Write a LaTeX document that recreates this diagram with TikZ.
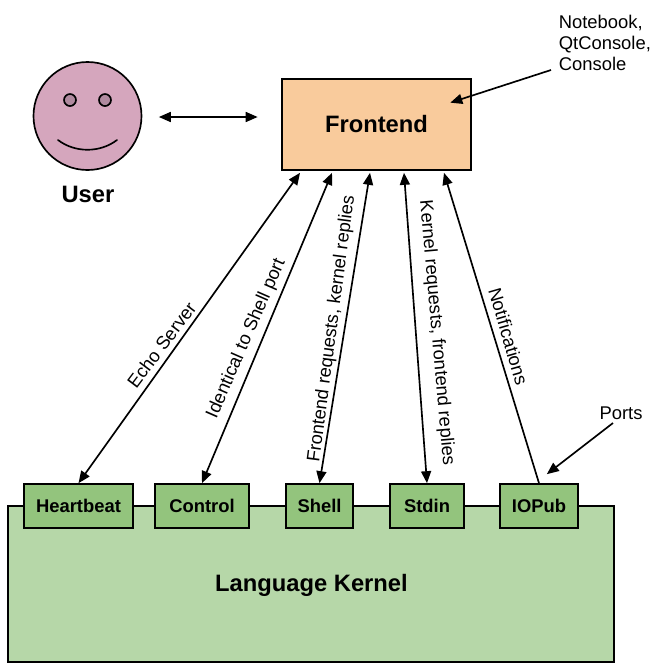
\documentclass[tikz,border=0pt]{standalone}
\usepackage{fontspec}
\setmainfont{Liberation Sans}
\usetikzlibrary{arrows.meta}
\definecolor{facepink}{HTML}{D5A6BD}
\definecolor{eyepink}{HTML}{B08A9F}
\definecolor{frontorange}{HTML}{F9CB9C}
\definecolor{kernelgreen}{HTML}{B6D7A8}
\definecolor{portgreen}{HTML}{93C47D}
\begin{document}
\begin{tikzpicture}[x=0.75pt,y=-0.75pt,line width=1.25pt]
\tikzset{
box/.style={draw=black,rectangle,inner sep=0pt},
port/.style={box,fill=portgreen,minimum height=33pt,font=\fontsize{13.8}{16}\selectfont\bfseries},
title/.style={inner sep=0pt,font=\fontsize{17.8}{20}\selectfont\bfseries},
note/.style={inner sep=0pt,font=\fontsize{13.8}{16}\selectfont},
tip/.style={-{Stealth[length=9pt,width=7.5pt,inset=0pt]}},
tips/.style={{Stealth[length=9pt,width=7.5pt,inset=0pt]}-{Stealth[length=9pt,width=7.5pt,inset=0pt]}}}
\useasboundingbox(0,0)rectangle(657,665);
%%User
\node[circle,draw=black,fill=facepink,minimum size=81pt,inner sep=0pt](Face)at(87.5,116){};
\node[circle,draw=black,fill=eyepink,minimum size=9pt,inner sep=0pt](EyeL)at(70,100){};
\node[circle,draw=black,fill=eyepink,minimum size=9pt,inner sep=0pt](EyeR)at(105,100){};
\draw[line cap=round](58,140)..controls(75,153)and(100,153)..(117,140);
\node[title](User)at(88,194){User};
%%Frontend
\node[box,fill=frontorange,minimum width=141.75pt,minimum height=68.25pt,title](Frontend)at(376.5,124.5){Frontend};
\node[note,anchor=west,align=left](Note)at(558,43){Notebook,\\QtConsole,\\Console};
%%Kernel
\node[box,fill=kernelgreen,minimum width=454.5pt,minimum height=117pt](Kernel)at(311,584){};
\node[title](KernelText)at(311.5,585){Language Kernel};
\node[port,minimum width=81.75pt](Heartbeat)at(78.5,506){Heartbeat};
\node[port,minimum width=70.5pt](Control)at(202,506){Control};
\node[port,minimum width=50.25pt](Shell)at(319.5,506){Shell};
\node[port,minimum width=55.1pt](Stdin)at(427,506){Stdin};
\node[port,minimum width=58.5pt](IOPub)at(539,506){IOPub};
\node[note](Ports)at(621,413){Ports};
%%Free ends
\path(Face.east)++(16.5,1)coordinate(u1);
\path(Frontend.west)++(-23.5,-7.5)coordinate(u2);
\path(Note.west)++(-7,27)coordinate(n1);
\path(Frontend.north east)++(-21.5,24.5)coordinate(n2);
\path(Ports)++(-8,10)coordinate(p1);
\path(IOPub.north east)++(-32,-9)coordinate(p2);
\path(Frontend.south)++(-76.5,2)coordinate(f1);
\path(Frontend.south)++(-44.5,2)coordinate(f2);
\path(Frontend.south)++(-6.5,2)coordinate(f3);
\path(Frontend.south)++(27.5,2)coordinate(f4);
\path(Frontend.south)++(67.5,2)coordinate(f5);
\draw[tips](u1)--(u2);
\draw[tip](n1)--(n2);
\draw[tip](p1)--(p2);
\foreach \x/\y in {
Heartbeat/f1,Control/f2,Shell/f3,Stdin/f4}
\draw[tips](\x.north)--(\y);
\draw[tip](IOPub.north)--(f5);
%%Labels on the arrows
\node[note,rotate=53](EchoText)at(161.5,345){Echo Server};
\node[note,rotate=66.4](ControlText)at(246.5,338.5){Identical to Shell port};
\node[note,rotate=82.5](ShellText)at(332,329){Frontend requests, kernel replies};
\node[note,rotate=-85](StdinText)at(436.5,333){Kernel requests, frontend replies};
\node[note,rotate=-73.8](IOPubText)at(508.5,336.5){Notifications};
\end{tikzpicture}
\end{document}
